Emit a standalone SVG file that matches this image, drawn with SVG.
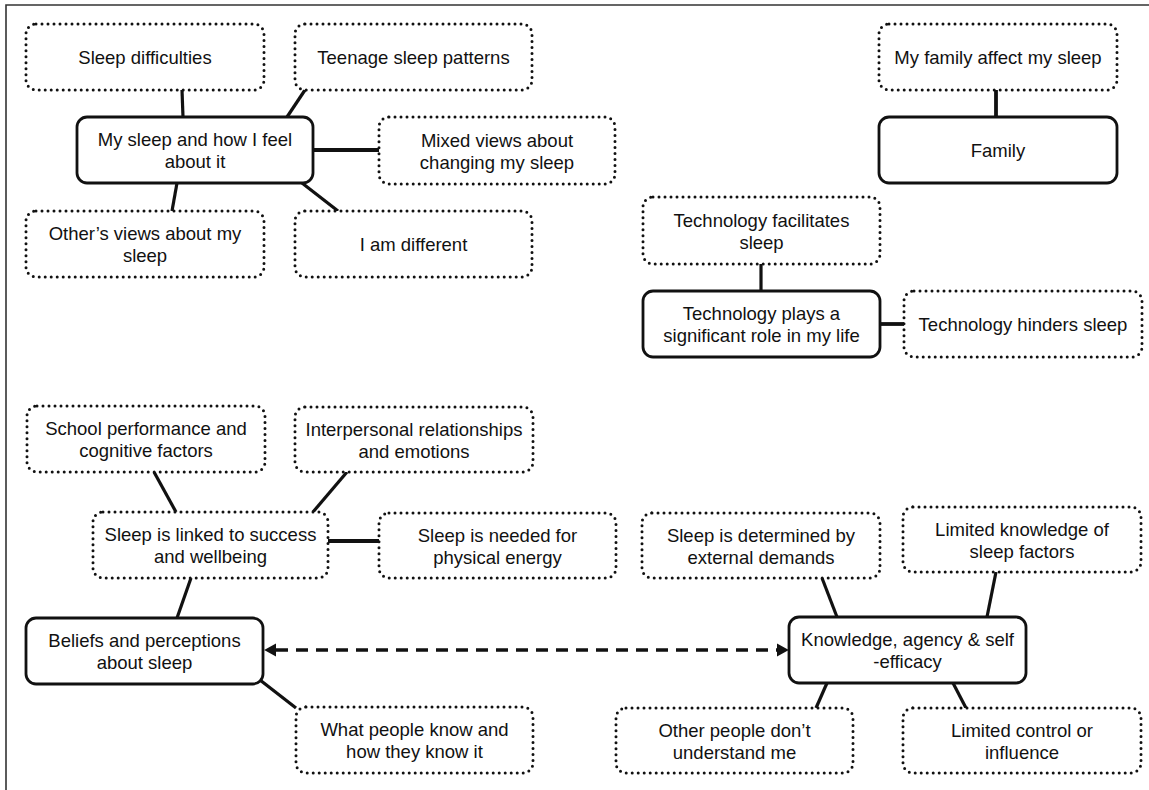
<svg xmlns="http://www.w3.org/2000/svg" width="1149" height="790" viewBox="0 0 1149 790">
<style>
.dot{fill:#fff;stroke:#111;stroke-width:3;stroke-dasharray:0 6;stroke-linecap:round}
.solid{fill:#fff;stroke:#111;stroke-width:2.8}
.t{font-family:"Liberation Sans",Arial,sans-serif;font-size:18.5px;fill:#111;text-anchor:middle}
.conn line{stroke:#111;stroke-width:3.2}
.conn line.h{stroke-width:3.8}
.conn line.dash{stroke-width:3.4;stroke-dasharray:12 8}
.frame{stroke:#333;stroke-width:1.6;fill:none}
</style>
<defs>
<marker id="arr" markerUnits="userSpaceOnUse" markerWidth="13" markerHeight="14" refX="0" refY="6.5" orient="auto-start-reverse" viewBox="0 0 12 13">
<path d="M0,0.5 L11,6.5 L0,12.5 z" fill="#111"/>
</marker>
</defs>
<rect width="1149" height="790" fill="#fff"/>
<path class="frame" d="M6,790 V5 H1149"/>
<g id="connectors" class="conn">
<line x1="182" y1="90" x2="183" y2="117"/>
<line x1="305" y1="90" x2="287" y2="117"/>
<line class="h" x1="313" y1="150" x2="379" y2="150"/>
<line x1="177" y1="183" x2="172" y2="211"/>
<line x1="302" y1="183" x2="338" y2="211"/>
<line class="h" x1="996" y1="90" x2="996" y2="117"/>
<line x1="761" y1="264" x2="761" y2="291"/>
<line class="h" x1="880" y1="324" x2="904" y2="324"/>
<line x1="154" y1="472" x2="176" y2="512"/>
<line x1="347" y1="472" x2="313" y2="512"/>
<line class="h" x1="328" y1="541" x2="379" y2="541"/>
<line x1="191" y1="578" x2="177" y2="618"/>
<line x1="260" y1="680" x2="296" y2="708"/>
<line x1="822" y1="578" x2="837" y2="617"/>
<line x1="996" y1="572" x2="987" y2="617"/>
<line x1="827" y1="683" x2="816" y2="708"/>
<line x1="953" y1="683" x2="966" y2="708"/>
<line class="dash" x1="276" y1="650" x2="777" y2="650" marker-start="url(#arr)" marker-end="url(#arr)"/>
</g>
<g id="n-sleep-difficulties"><rect class="dot" x="26" y="24" width="238" height="66" rx="10"/><text class="t" x="145" y="63.5">Sleep difficulties</text></g>
<g id="n-teenage"><rect class="dot" x="295" y="24" width="237" height="66" rx="10"/><text class="t" x="413.5" y="63.5">Teenage sleep patterns</text></g>
<g id="n-my-sleep"><rect class="solid" x="77" y="117" width="236" height="66" rx="10"/><text class="t" x="195" y="146">My sleep and how I feel</text><text class="t" x="195" y="168">about it</text></g>
<g id="n-mixed"><rect class="dot" x="379" y="117" width="236" height="67" rx="10"/><text class="t" x="497" y="146.5">Mixed views about</text><text class="t" x="497" y="168.5">changing my sleep</text></g>
<g id="n-others-views"><rect class="dot" x="26" y="211" width="238" height="66" rx="10"/><text class="t" x="145" y="240">Other’s views about my</text><text class="t" x="145" y="262">sleep</text></g>
<g id="n-different"><rect class="dot" x="295" y="211" width="237" height="66" rx="10"/><text class="t" x="413.5" y="250.5">I am different</text></g>
<g id="n-family-affect"><rect class="dot" x="879" y="24" width="238" height="66" rx="10"/><text class="t" x="998" y="63.5">My family affect my sleep</text></g>
<g id="n-family"><rect class="solid" x="879" y="117" width="238" height="66" rx="10"/><text class="t" x="998" y="156.5">Family</text></g>
<g id="n-tech-facilitates"><rect class="dot" x="643" y="197" width="237" height="67" rx="10"/><text class="t" x="761.5" y="226.5">Technology facilitates</text><text class="t" x="761.5" y="248.5">sleep</text></g>
<g id="n-tech-plays"><rect class="solid" x="643" y="291" width="237" height="66" rx="10"/><text class="t" x="761.5" y="320">Technology plays a</text><text class="t" x="761.5" y="342">significant role in my life</text></g>
<g id="n-tech-hinders"><rect class="dot" x="904" y="291" width="238" height="66" rx="10"/><text class="t" x="1023" y="330.5">Technology hinders sleep</text></g>
<g id="n-school"><rect class="dot" x="27" y="406" width="238" height="66" rx="10"/><text class="t" x="146" y="435">School performance and</text><text class="t" x="146" y="457">cognitive factors</text></g>
<g id="n-interpersonal"><rect class="dot" x="295" y="407" width="238" height="65" rx="10"/><text class="t" x="414" y="435.5">Interpersonal relationships</text><text class="t" x="414" y="457.5">and emotions</text></g>
<g id="n-linked"><rect class="dot" x="93" y="512" width="235" height="66" rx="10"/><text class="t" x="210.5" y="541">Sleep is linked to success</text><text class="t" x="210.5" y="563">and wellbeing</text></g>
<g id="n-needed"><rect class="dot" x="379" y="513" width="237" height="65" rx="10"/><text class="t" x="497.5" y="541.5">Sleep is needed for</text><text class="t" x="497.5" y="563.5">physical energy</text></g>
<g id="n-beliefs"><rect class="solid" x="26" y="618" width="237" height="66" rx="10"/><text class="t" x="144.5" y="647">Beliefs and perceptions</text><text class="t" x="144.5" y="669">about sleep</text></g>
<g id="n-what-people"><rect class="dot" x="296" y="707" width="237" height="66" rx="10"/><text class="t" x="414.5" y="736">What people know and</text><text class="t" x="414.5" y="758">how they know it</text></g>
<g id="n-determined"><rect class="dot" x="642" y="513" width="238" height="65" rx="10"/><text class="t" x="761" y="541.5">Sleep is determined by</text><text class="t" x="761" y="563.5">external demands</text></g>
<g id="n-limited-knowledge"><rect class="dot" x="903" y="507" width="238" height="65" rx="10"/><text class="t" x="1022" y="535.5">Limited knowledge of</text><text class="t" x="1022" y="557.5">sleep factors</text></g>
<g id="n-knowledge"><rect class="solid" x="789" y="617" width="237" height="66" rx="10"/><text class="t" x="907.5" y="646">Knowledge, agency &amp; self</text><text class="t" x="907.5" y="668">-efficacy</text></g>
<g id="n-other-people"><rect class="dot" x="616" y="708" width="237" height="65" rx="10"/><text class="t" x="734.5" y="736.5">Other people don’t</text><text class="t" x="734.5" y="758.5">understand me</text></g>
<g id="n-limited-control"><rect class="dot" x="903" y="708" width="238" height="65" rx="10"/><text class="t" x="1022" y="736.5">Limited control or</text><text class="t" x="1022" y="758.5">influence</text></g>
</svg>
